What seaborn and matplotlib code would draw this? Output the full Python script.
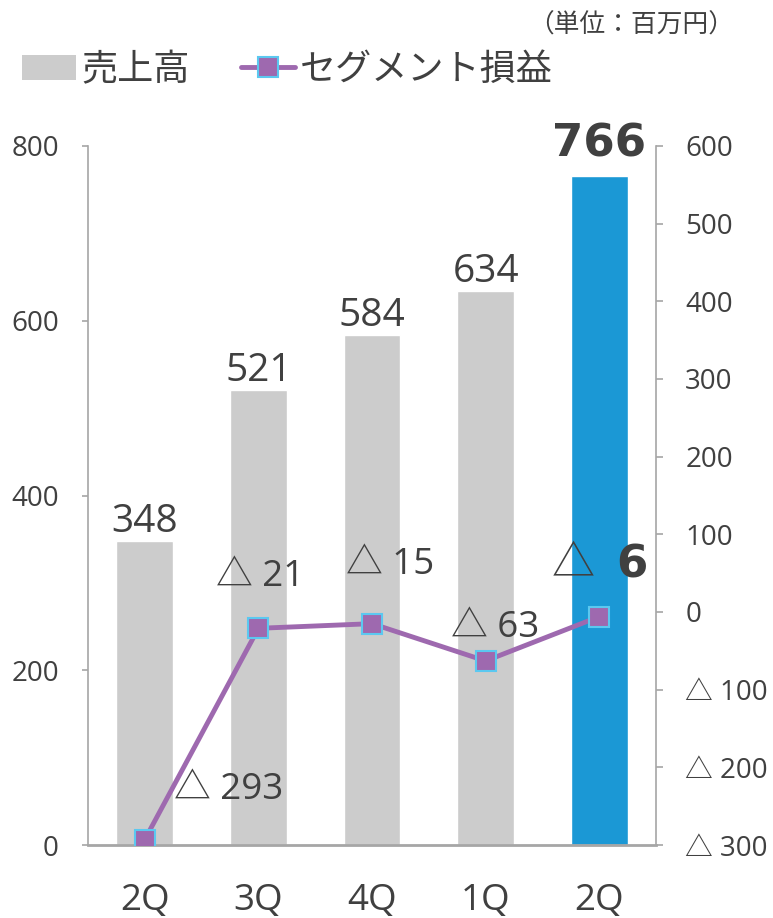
import numpy as np
import pandas as pd
import matplotlib
matplotlib.use("Agg")
import matplotlib.pyplot as plt
from matplotlib.lines import Line2D
from matplotlib.patches import Patch
import seaborn as sns

quarters = ["2Q", "3Q", "4Q", "1Q", "2Q"]
sales = [348, 521, 584, 634, 766]
segment = [-293, -21, -15, -63, -6]
left_ticks = [0, 200, 400, 600, 800]
right_ticks = [-300, -200, -100, 0, 100, 200, 300, 400, 500, 600]

sns.set_style("white")
plt.rcParams["font.family"] = ["Open Sans", "Noto Sans CJK JP", "DejaVu Sans"]

TXT = "#404040"
AX = "#A6A6A6"
GREY = "#CCCCCC"
BLUE = "#1B98D5"
PURPLE = "#9E69AF"
EDGE = "#5BC8F0"
BOLD = ["DejaVu Sans", "Noto Sans CJK JP"]

def tri(v):
    return f"△ {abs(v)}" if v < 0 else f"{v}"

df = pd.DataFrame({"period": [f"p{i}" for i in range(len(quarters))],
                   "sales": sales, "segment": segment})
df["pos"] = np.arange(len(df))

fig = plt.figure(figsize=(7.73, 9.18), dpi=100)
ax = fig.add_axes([88 / 773, 1 - 845 / 918, (656 - 88) / 773, (845 - 146) / 918])

colors = [GREY] * (len(df) - 1) + [BLUE]
sns.barplot(data=df, x="period", y="sales", hue="period", palette=colors,
            legend=False, width=0.5, saturation=1, ax=ax)
ax.set_xlim(-0.5, len(df) - 0.5)
ax.set_ylim(0, 800)
ax.set_yticks(left_ticks)
ax.set_xticks(df["pos"])
ax.set_xticklabels(quarters)
ax.set_xticks(np.arange(-0.5, len(df), 1.0), minor=True)
ax.set_xlabel("")
ax.set_ylabel("")
ax.tick_params(axis="x", which="major", length=0, pad=27, labelsize=26.5, labelcolor=TXT)
ax.tick_params(axis="x", which="minor", direction="in", length=9, width=1.2, color=AX)
ax.tick_params(axis="y", direction="out", length=4, width=1.2, color=AX,
               pad=17, labelsize=20, labelcolor=TXT, left=True)
for side in ["top", "right"]:
    ax.spines[side].set_visible(False)
for side in ["left", "bottom"]:
    ax.spines[side].set_color(AX)
    ax.spines[side].set_linewidth(1.2)
ax.spines["bottom"].set_linewidth(2)

for i, v in enumerate(sales[:-1]):
    ax.annotate(f"{v}", (i, v), xytext=(0, 6.5), textcoords="offset points",
                ha="center", va="baseline", color=TXT, fontsize=28)
i = len(sales) - 1
ax.annotate(f"{sales[i]}", (i, sales[i]), xytext=(0, 14), textcoords="offset points",
            ha="center", va="baseline", color=TXT, fontsize=32.5,
            fontweight="bold", family=BOLD)

ax2 = ax.twinx()
sns.lineplot(data=df, x="pos", y="segment", ax=ax2, color=PURPLE, linewidth=3.5,
             marker="s", markersize=15, markerfacecolor=PURPLE,
             markeredgecolor=EDGE, markeredgewidth=1.5)
ax2.set_ylim(-300, 600)
ax2.set_yticks(right_ticks)
ax2.set_yticklabels([tri(v) for v in right_ticks])
ax2.set_ylabel("")
ax2.set_xlabel("")
ax2.tick_params(axis="y", direction="out", length=5, width=1.2, color=AX,
                pad=16, labelsize=20, labelcolor=TXT, right=True)
for side in ["top", "left", "bottom"]:
    ax2.spines[side].set_visible(False)
ax2.spines["right"].set_color(AX)
ax2.spines["right"].set_linewidth(1.2)

offsets = [(21, 36), (1.5, 37), (13, 42), (6.5, 24)]
for i, v in enumerate(segment[:-1]):
    dx, dy = offsets[i]
    ax2.annotate(tri(v), (i, v), xytext=(dx, dy), textcoords="offset points",
                 ha="left" if i == 0 else "center", va="center",
                 fontsize=26.5, color=TXT)
i = len(segment) - 1
ax2.annotate("△", (i, segment[i]), xytext=(-3.5, 37), textcoords="offset points",
             ha="right", va="center", fontsize=31, color=TXT)
ax2.annotate(f"{abs(segment[i])}", (i, segment[i]), xytext=(12, 37),
             textcoords="offset points", ha="left", va="center",
             fontsize=32.5, fontweight="bold", color=TXT, family=BOLD)

handles = [Patch(facecolor=GREY, edgecolor="none"),
           Line2D([0], [0], color=PURPLE, lw=3.5, marker="s", markersize=15,
                  markerfacecolor=PURPLE, markeredgecolor=EDGE, markeredgewidth=1.5)]
fig.legend(handles, ["売上高", "セグメント損益"], loc="upper left",
           bbox_to_anchor=(22 / 773, 1 - 53 / 918), ncol=2, frameon=False,
           fontsize=26, handlelength=1.5, handleheight=0.7, handletextpad=0.15,
           columnspacing=1.4, borderpad=0, borderaxespad=0, labelcolor=TXT)
fig.text(631 / 773, 1 - 26 / 918, "（単位：百万円）", ha="center", va="center",
         fontsize=18.5, color=TXT)

fig.savefig("out.png", dpi=100)
